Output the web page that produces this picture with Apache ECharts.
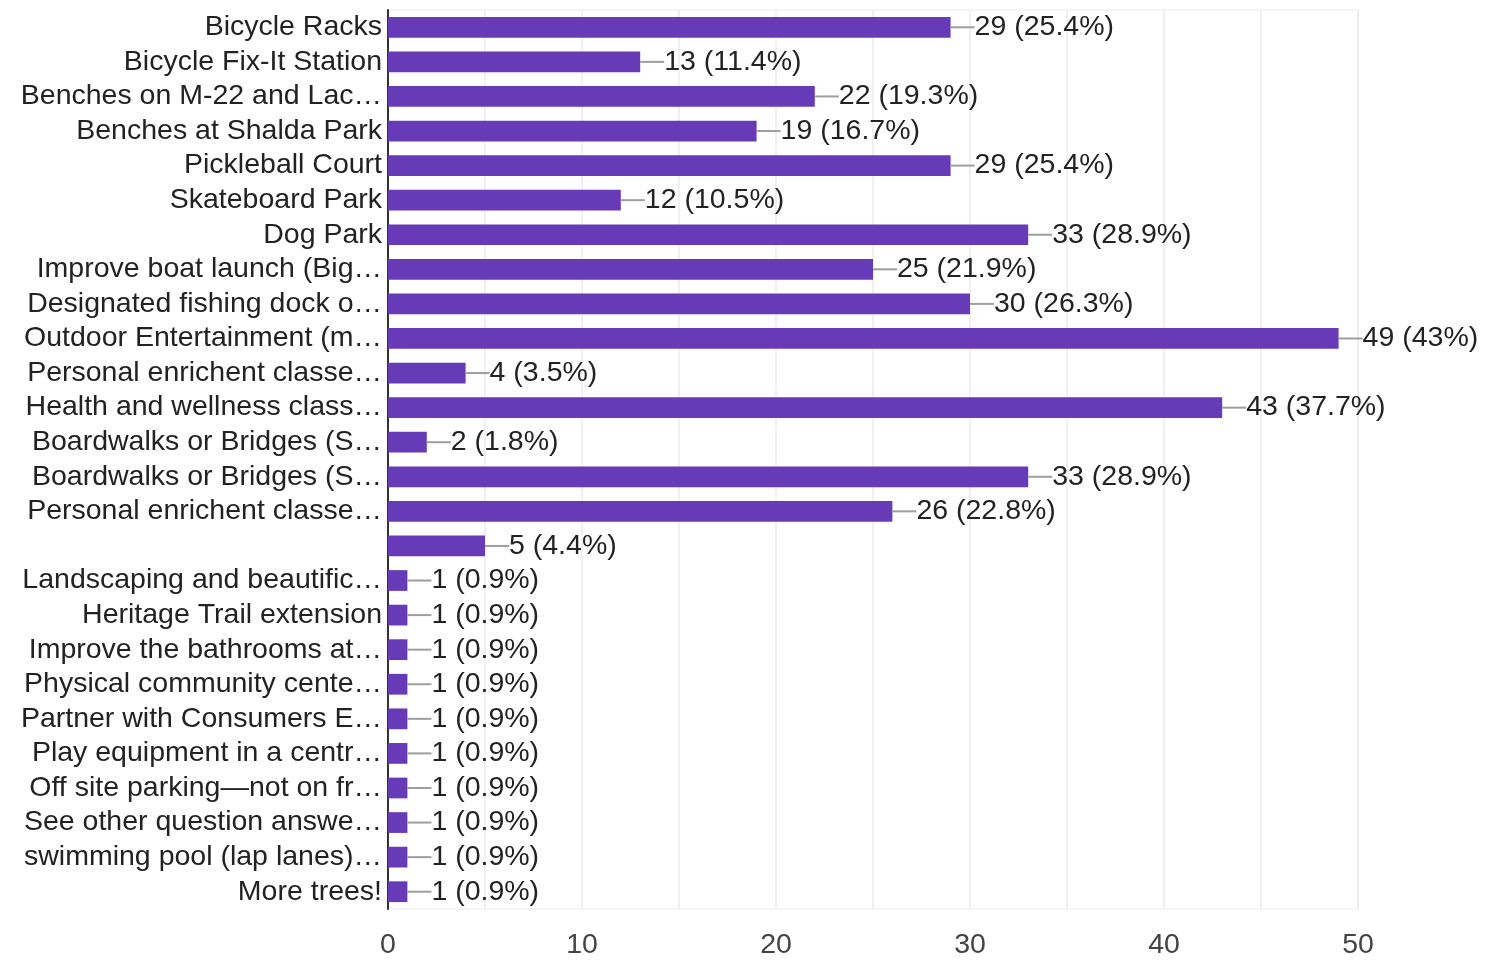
<!DOCTYPE html>
<html>
<head>
<meta charset="utf-8">
<script src="https://cdn.jsdelivr.net/npm/echarts@6/dist/echarts.min.js"></script>
<style>
html,body{margin:0;padding:0;background:#fff;}
#chart{width:1486px;height:960px;}
</style>
</head>
<body>
<div id="chart"></div>
<script>
const categories = [
  "Bicycle Racks",
  "Bicycle Fix-It Station",
  "Benches on M-22 and Lac…",
  "Benches at Shalda Park",
  "Pickleball Court",
  "Skateboard Park",
  "Dog Park",
  "Improve boat launch (Big…",
  "Designated fishing dock o…",
  "Outdoor Entertainment (m…",
  "Personal enrichent classe…",
  "Health and wellness class…",
  "Boardwalks or Bridges (S…",
  "Boardwalks or Bridges (S…",
  "Personal enrichent classe…",
  "",
  "Landscaping and beautific…",
  "Heritage Trail extension",
  "Improve the bathrooms at…",
  "Physical community cente…",
  "Partner with Consumers E…",
  "Play equipment in a centr…",
  "Off site parking—not on fr…",
  "See other question answe…",
  "swimming pool (lap lanes)…",
  "More trees!"
];
const counts = [29, 13, 22, 19, 29, 12, 33, 25, 30, 49, 4, 43, 2, 33, 26, 5, 1, 1, 1, 1, 1, 1, 1, 1, 1, 1];
const percents = ["25.4", "11.4", "19.3", "16.7", "25.4", "10.5", "28.9", "21.9", "26.3", "43", "3.5", "37.7", "1.8", "28.9", "22.8", "4.4", "0.9", "0.9", "0.9", "0.9", "0.9", "0.9", "0.9", "0.9", "0.9", "0.9"];
const xTicks = [0, 10, 20, 30, 40, 50];

const FONT = '"Liberation Sans", Arial, sans-serif';
const FS = 28.5;
const chart = echarts.init(document.getElementById('chart'));
const yIdx = categories.map((_, i) => String(i));

chart.setOption({
  animation: false,
  backgroundColor: '#fff',
  grid: {
    left: 388, right: 128, top: 10, bottom: 49,
    show: true, borderColor: '#ebebeb', borderWidth: 1
  },
  xAxis: {
    type: 'value',
    min: 0, max: 50, interval: 5,
    axisLine: { show: false },
    axisTick: { show: false },
    splitLine: { show: true, lineStyle: { color: '#ebebeb', width: 1.5 } },
    axisLabel: {
      margin: 22,
      fontFamily: FONT, fontSize: FS, color: '#444',
      formatter: v => xTicks.indexOf(v) >= 0 ? String(v) : ''
    }
  },
  yAxis: {
    type: 'category',
    inverse: true,
    data: yIdx,
    axisLine: { show: true, lineStyle: { color: '#333', width: 2 } },
    axisTick: { show: false },
    splitLine: { show: false },
    axisLabel: {
      interval: 0,
      margin: 6,
      fontFamily: FONT, fontSize: FS, color: '#222',
      formatter: v => categories[+v]
    }
  },
  series: [{
    type: 'bar',
    data: counts,
    barCategoryGap: '40%',
    itemStyle: { color: '#673ab7' },
    label: {
      show: true,
      position: 'right',
      distance: 0,
      fontFamily: FONT, fontSize: FS, color: '#222',
      lineHeight: 32,
      formatter: p => '{ln| }{t|' + counts[p.dataIndex] + ' (' + percents[p.dataIndex] + '%)}',
      rich: {
        ln: { width: 24, height: 2, backgroundColor: '#9e9e9e', fontSize: 2, lineHeight: 32, verticalAlign: 'middle' },
        t: { fontFamily: FONT, fontSize: FS, color: '#222', lineHeight: 32, verticalAlign: 'middle' }
      }
    }
  }]
});
</script>
</body>
</html>
